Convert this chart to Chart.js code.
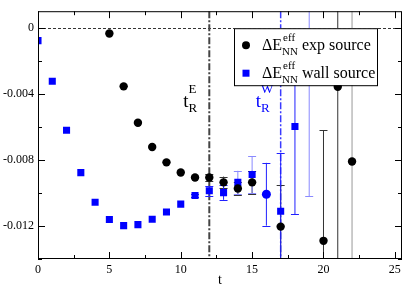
<!DOCTYPE html>
<html>
<head>
<meta charset="utf-8">
<script src="https://cdn.jsdelivr.net/npm/chart.js@4/dist/chart.umd.min.js"></script>
<style>
  html, body { margin: 0; padding: 0; background: #fff; }
</style>
</head>
<body>
<canvas id="chart" width="407" height="286"></canvas>
<script>
// effective energy shift vs time slice, two source types
const times = [0, 1, 2, 3, 4, 5, 6, 7, 8, 9, 10, 11, 12, 13, 14, 15, 16, 17, 18, 19, 20, 21, 22];

const expSource = [null, null, null, null, null, -0.00035, -0.00355, -0.00575, -0.00722, -0.00815,
  -0.00876, -0.00907, -0.00907, -0.00936, -0.00973, -0.00936, null, -0.01204, null, null,
  -0.0129, -0.00357, -0.0081];
const expSourceErr = [0, 0, 0, 0, 0, 0, 0, 0, 0, 0, 0, 0.00005, 0.0002, 0.00035, 0.0004, 0.0007,
  0, 0.0025, 0, 0, 0.0067, 0.02, 0.02];

const wallSource = [-0.00078, -0.00324, -0.00621, -0.00877, -0.01056, -0.01161, -0.01198, -0.01192,
  -0.01159, -0.01116, -0.01068, -0.01016, -0.00987, -0.00998, -0.00936, -0.00888, -0.01008,
  -0.01111, -0.00598, 0.004];
const wallSourceErr = [0, 0, 0, 0, 0, 0, 0, 0, 0, 0, 0, 0.0001, 0.0003, 0.00044, 0.0007, 0.0011,
  0.0019, 0.0035, 0.0053, 0.0142];

const seriesNames = ['exp source', 'wall source'];
const xTicks = [0, 5, 10, 15, 20, 25];
const yTicks = [-0.012, -0.008, -0.004, 0];
const tRExp = 12;
const tRWall = 17;

const serif = "'Liberation Serif', 'DejaVu Serif', serif";
const fadedWall = [14, 15, 19];   // lighter error bars
const fadedExp = [22];

const toPoints = (vals) => times
  .map((t, i) => ({ x: t, y: vals[i] }))
  .filter(p => p.y !== null && p.y !== undefined);

const errorBars = {
  id: 'errorBars',
  beforeDatasetsDraw(chart) {
    const { ctx, chartArea: a, scales: { x, y } } = chart;
    ctx.save();
    ctx.beginPath();
    ctx.rect(a.left, a.top, a.right - a.left, a.bottom - a.top);
    ctx.clip();

    // zero line
    ctx.strokeStyle = '#000';
    ctx.lineWidth = 0.8;
    ctx.setLineDash([3, 2]);
    const y0 = Math.round(y.getPixelForValue(0)) + 0.5;
    ctx.beginPath(); ctx.moveTo(a.left, y0); ctx.lineTo(a.right, y0); ctx.stroke();

    // plateau start markers
    ctx.setLineDash([7, 2, 2, 2]);
    ctx.lineWidth = 2;
    ctx.strokeStyle = '#444';
    let px = x.getPixelForValue(tRExp);
    ctx.beginPath(); ctx.moveTo(px, a.top); ctx.lineTo(px, a.bottom); ctx.stroke();
    ctx.lineWidth = 1.5;
    ctx.strokeStyle = '#3a3aff';
    px = x.getPixelForValue(tRWall);
    ctx.beginPath(); ctx.moveTo(px, a.top); ctx.lineTo(px, a.bottom); ctx.stroke();
    ctx.setLineDash([]);

    const drawBars = (vals, errs, color, faded) => {
      times.forEach((t, i) => {
        const v = vals[i], e = errs[i];
        if (v === null || v === undefined || !e) return;
        const cx = x.getPixelForValue(t);
        const yt = y.getPixelForValue(v + e);
        const yb = y.getPixelForValue(v - e);
        ctx.strokeStyle = faded.includes(t) ? (color === 'blue' ? '#8a8aff' : '#999') : (color === 'blue' ? '#2020ff' : '#333');
        ctx.lineWidth = 1;
        ctx.beginPath();
        ctx.moveTo(cx, yt); ctx.lineTo(cx, yb);
        ctx.moveTo(cx - 4, Math.round(yt) + 0.5); ctx.lineTo(cx + 4, Math.round(yt) + 0.5);
        ctx.moveTo(cx - 4, Math.round(yb) + 0.5); ctx.lineTo(cx + 4, Math.round(yb) + 0.5);
        ctx.stroke();
      });
    };
    drawBars(expSource, expSourceErr, 'black', fadedExp);
    drawBars(wallSource, wallSourceErr, 'blue', fadedWall);
    ctx.restore();
  },
  afterDraw(chart) {
    const { ctx, chartArea: a, scales: { x, y } } = chart;
    ctx.save();

    // frame + inward ticks on all sides
    ctx.strokeStyle = '#000';
    ctx.lineWidth = 1;
    ctx.strokeRect(a.left + 0.5, a.top + 0.5, a.right - a.left - 1, a.bottom - a.top - 1);
    ctx.beginPath();
    const xMinor = xTicks.slice(0, -1).map((v, i) => (v + xTicks[i + 1]) / 2);
    const yMinor = [-0.014, -0.010, -0.006, -0.002];
    const tickX = (v, len) => {
      const p = Math.round(x.getPixelForValue(v)) + 0.5;
      ctx.moveTo(p, a.bottom); ctx.lineTo(p, a.bottom - len);
      ctx.moveTo(p, a.top); ctx.lineTo(p, a.top + len);
    };
    const tickY = (v, len) => {
      const p = Math.round(y.getPixelForValue(v)) + 0.5;
      ctx.moveTo(a.left, p); ctx.lineTo(a.left + len, p);
      ctx.moveTo(a.right, p); ctx.lineTo(a.right - len, p);
    };
    xTicks.forEach(v => tickX(v, 7));
    xMinor.forEach(v => tickX(v, 4));
    yTicks.forEach(v => tickY(v, 7));
    yMinor.forEach(v => tickY(v, 4));
    ctx.stroke();

    // t_R labels
    const tLabel = (px, sup, color) => {
      ctx.fillStyle = color;
      ctx.textBaseline = 'alphabetic';
      ctx.textAlign = 'left';
      ctx.font = `19px ${serif}`;
      ctx.fillText('t', px, 107);
      const w = ctx.measureText('t').width;
      ctx.font = `13px ${serif}`;
      ctx.fillText('R', px + w, 112);
      ctx.fillText(sup, px + w, 93);
    };
    tLabel(x.getPixelForValue(tRExp) - 26, 'E', '#000');
    tLabel(x.getPixelForValue(tRWall) - 25, 'W', '#0000ff');

    // legend
    const bx = a.right - 168, by = a.top + 17, bw = 143, bh = 57;
    ctx.fillStyle = '#fff';
    ctx.fillRect(bx, by, bw, bh);
    ctx.strokeStyle = '#000';
    ctx.strokeRect(bx + 0.5, by + 0.5, bw, bh);
    const items = [
      { name: seriesNames[0], color: '#000', circle: true },
      { name: seriesNames[1], color: '#0000ff', circle: false }
    ];
    items.forEach((it, k) => {
      const base = by + 22 + k * 28;
      const mx = bx + 12, my = base - 5;
      ctx.fillStyle = it.color;
      ctx.beginPath();
      if (it.circle) { ctx.arc(mx, my, 4, 0, Math.PI * 2); ctx.fill(); }
      else { ctx.fillRect(mx - 3.5, my - 3.5, 7, 7); }
      ctx.fillStyle = '#000';
      ctx.textAlign = 'left';
      ctx.textBaseline = 'alphabetic';
      let tx = bx + 28;
      ctx.font = `16px ${serif}`;
      ctx.fillText('ΔE', tx, base);
      tx += ctx.measureText('ΔE').width;
      ctx.font = `11px ${serif}`;
      ctx.fillText('eff', tx + 1, base - 9);
      ctx.fillText('NN', tx, base + 5);
      tx += Math.max(ctx.measureText('NN').width, ctx.measureText('eff').width + 1);
      ctx.font = `16px ${serif}`;
      ctx.fillText(' ' + it.name, tx, base);
    });
    ctx.restore();
  }
};

new Chart(document.getElementById('chart'), {
  type: 'scatter',
  data: {
    datasets: [
      {
        label: 'ΔE_NN^eff ' + seriesNames[0],
        data: toPoints(expSource),
        pointStyle: 'circle',
        pointRadius: 4.2,
        pointBorderWidth: 0,
        backgroundColor: '#000',
        borderColor: '#000'
      },
      {
        label: 'ΔE_NN^eff ' + seriesNames[1],
        data: toPoints(wallSource),
        pointStyle: times.slice(0, wallSource.length).map(t => t === 16 ? 'circle' : 'rect'),
        pointRadius: times.slice(0, wallSource.length).map(t => t === 16 ? 4.5 : 5),
        pointBorderWidth: 0,
        backgroundColor: '#0000ff',
        borderColor: '#0000ff'
      }
    ]
  },
  options: {
    responsive: false,
    devicePixelRatio: 1,
    animation: false,
    layout: { padding: { left: 0, right: 2, top: 3, bottom: 0 } },
    plugins: { legend: { display: false }, tooltip: { enabled: false } },
    scales: {
      x: {
        type: 'linear',
        min: 0,
        max: 25.5,
        afterBuildTicks: s => { s.ticks = xTicks.map(v => ({ value: v })); },
        afterFit: s => { s.height = 27; },
        grid: { display: false, drawTicks: false },
        border: { display: false },
        ticks: {
          color: '#000',
          font: { family: serif, size: 12 },
          padding: 4,
          maxRotation: 0,
          autoSkip: false
        },
        title: {
          display: true,
          text: 't',
          color: '#000',
          font: { family: serif, size: 14 },
          padding: { top: 0, bottom: -3 }
        }
      },
      y: {
        type: 'linear',
        min: -0.014,
        max: 0.001,
        afterBuildTicks: s => { s.ticks = yTicks.map(v => ({ value: v })); },
        afterFit: s => { s.width = 38; },
        grid: { display: false, drawTicks: false },
        border: { display: false },
        ticks: {
          color: '#000',
          font: { family: serif, size: 12 },
          padding: 4,
          callback: v => (v === 0 ? '0' : v.toFixed(3))
        }
      }
    }
  },
  plugins: [errorBars]
});
</script>
</body>
</html>
